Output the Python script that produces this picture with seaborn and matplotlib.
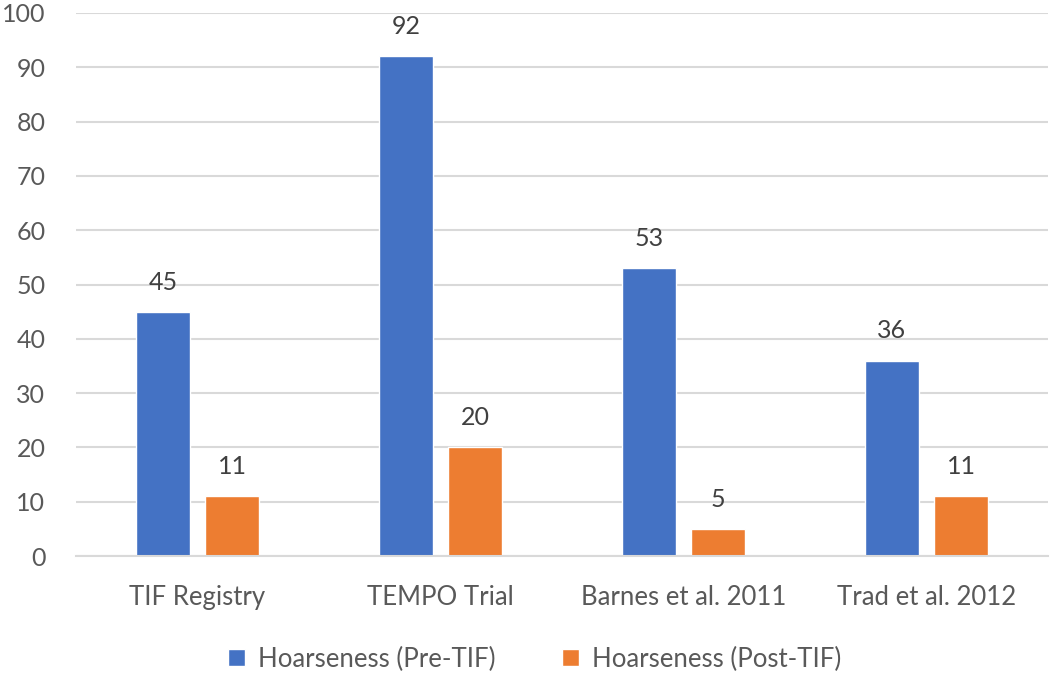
import pandas as pd
import matplotlib
matplotlib.use("Agg")
import matplotlib.pyplot as plt
import seaborn as sns

# Chart data
studies = ["TIF Registry", "TEMPO Trial", "Barnes et al. 2011", "Trad et al. 2012"]
pre_tif = [45, 92, 53, 36]
post_tif = [11, 20, 5, 11]
series_names = ["Hoarseness (Pre-TIF)", "Hoarseness (Post-TIF)"]
y_ticks = list(range(0, 101, 10))

df = pd.DataFrame({
    "Study": studies * 2,
    "Value": pre_tif + post_tif,
    "Series": [series_names[0]] * len(studies) + [series_names[1]] * len(studies),
})

sns.set_theme(style="white")
plt.rcParams["font.family"] = ["Lato", "DejaVu Sans"]

fig = plt.figure(figsize=(10.5, 6.78), dpi=100)
ax = fig.add_axes([76 / 1050, 1 - 556 / 678, 972 / 1050, 543 / 678])

sns.barplot(data=df, x="Study", y="Value", hue="Series",
            palette=["#4472C4", "#ED7D31"], saturation=1,
            width=0.568, gap=0.23, ax=ax)

for cont in ax.containers:
    ax.bar_label(cont, fmt="%.0f", padding=13, fontsize=18, color="#404040")

ax.set_ylim(0, 100)
ax.set_yticks(y_ticks)
ax.yaxis.grid(True, color="#D9D9D9", linewidth=1.5)
ax.set_axisbelow(True)
for side in ["top", "right", "left"]:
    ax.spines[side].set_visible(False)
ax.spines["bottom"].set_color("#D9D9D9")
ax.spines["bottom"].set_linewidth(1.5)
ax.tick_params(axis="y", length=0, pad=22, labelsize=18, labelcolor="#595959")
ax.tick_params(axis="x", length=0, pad=21, labelsize=18.5, labelcolor="#595959")
ax.set_xlabel("")
ax.set_ylabel("")

handles, labels = ax.get_legend_handles_labels()
ax.legend(handles, labels, loc="center", bbox_to_anchor=(0.472, -0.19), ncol=2,
          frameon=False, fontsize=18.5, labelcolor="#595959",
          handlelength=0.65, handleheight=0.65, handletextpad=0.5, columnspacing=2.6)

fig.savefig("out.png", dpi=100)
